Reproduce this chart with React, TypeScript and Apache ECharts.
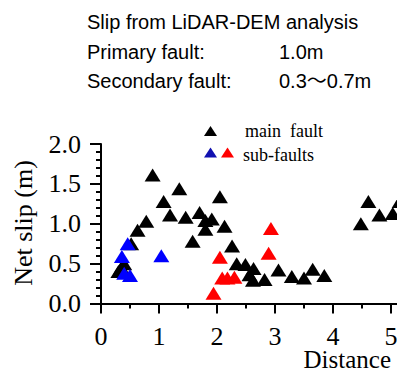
import React, { useEffect, useRef } from "react";
import * as echarts from "echarts";

// Distance, Net slip (m)
const mainFault: [number, number][] = [
  [0.30, 0.40], [0.35, 0.45], [0.40, 0.50], [0.52, 0.75], [0.63, 0.92], [0.78, 1.03],
  [0.89, 1.61], [1.08, 1.28], [1.19, 1.11], [1.35, 1.44], [1.46, 1.08], [1.58, 0.78],
  [1.70, 1.14], [1.80, 1.04], [1.91, 1.06], [1.80, 0.93], [2.05, 1.34], [2.13, 0.97],
  [2.26, 0.72], [2.34, 0.50], [2.49, 0.49], [2.63, 0.44], [2.56, 0.36], [2.62, 0.29],
  [2.82, 0.30], [3.06, 0.42], [3.29, 0.34], [3.50, 0.32], [3.65, 0.43], [3.85, 0.35],
  [4.48, 1.00], [4.61, 1.28], [4.80, 1.11], [5.03, 1.13], [5.15, 1.28],
];
const subFaultsBlue: [number, number][] = [
  [0.46, 0.75], [0.36, 0.59], [0.40, 0.38], [0.50, 0.35], [1.04, 0.60],
];
const subFaultsRed: [number, number][] = [
  [2.93, 0.94], [2.89, 0.63], [2.05, 0.58], [2.09, 0.32], [2.18, 0.32], [2.30, 0.33], [1.94, 0.13],
];
const titleLines = ["Slip from LiDAR-DEM analysis", "Primary fault:", "Secondary fault:"];
const titleValues = ["1.0m", "0.3\u301C0.7m"];
const legendLabels = ["main  fault", "sub-faults"];
const xName = "Distance";
const yName = "Net slip (m)";

const SERIF = "'Liberation Serif', 'Times New Roman', serif";
const SANS = "'Liberation Sans', Arial, 'Noto Sans CJK JP', sans-serif";

function tri(cx: number, cy: number, w: number, h: number) {
  return [[cx - w / 2, cy + h / 2], [cx + w / 2, cy + h / 2], [cx, cy - h / 2]];
}

export default function App() {
  const ref = useRef<HTMLDivElement>(null);
  useEffect(() => {
    if (!ref.current) return;
    const chart = echarts.init(ref.current, null, { renderer: "svg" });
    const sym = { symbol: "triangle", symbolSize: [16, 13] };
    chart.setOption({
      animation: false,
      grid: { left: 93, top: 136, width: 319, height: 159.5, containLabel: false, outerBoundsMode: "none" },
      xAxis: {
        type: "value", min: 0, max: 5.5, interval: 1,
        splitLine: { show: false },
        axisLine: { show: true, onZero: false, lineStyle: { color: "#000", width: 2 } },
        axisTick: { show: true, inside: false, length: 10, lineStyle: { color: "#000", width: 2 } },
        minorTick: { show: true, splitNumber: 2, length: 5, lineStyle: { color: "#000", width: 2 } },
        axisLabel: { color: "#000", fontSize: 26, fontFamily: SERIF, margin: 20, hideOverlap: false, formatter: (v: number) => (Number.isInteger(v) ? String(v) : "") },
      },
      yAxis: {
        type: "value", min: 0, max: 2, interval: 0.5,
        splitLine: { show: false },
        axisLine: { show: true, onZero: false, lineStyle: { color: "#000", width: 2 } },
        axisTick: { show: true, inside: false, length: 11, lineStyle: { color: "#000", width: 2 } },
        minorTick: { show: true, splitNumber: 5, length: 5, lineStyle: { color: "#000", width: 2 } },
        axisLabel: { color: "#000", fontSize: 26, fontFamily: SERIF, margin: 20, formatter: (v: number) => v.toFixed(1) },
      },
      series: [
        { type: "scatter", data: mainFault, ...sym, itemStyle: { color: "#000", opacity: 1 } },
        { type: "scatter", data: subFaultsBlue, ...sym, itemStyle: { color: "#0000ff", opacity: 1 } },
        { type: "scatter", data: subFaultsRed, ...sym, itemStyle: { color: "#ff0000", opacity: 1 } },
      ],
      graphic: [
        { type: "text", x: 79, y: 14, style: { text: titleLines[0], font: `20px ${SANS}`, fill: "#000", textVerticalAlign: "middle" } },
        { type: "text", x: 79, y: 44, style: { text: titleLines[1], font: `20px ${SANS}`, fill: "#000", textVerticalAlign: "middle" } },
        { type: "text", x: 79, y: 72.5, style: { text: titleLines[2], font: `20px ${SANS}`, fill: "#000", textVerticalAlign: "middle" } },
        { type: "text", x: 271, y: 44, style: { text: titleValues[0], font: `20px ${SANS}`, fill: "#000", textVerticalAlign: "middle" } },
        { type: "text", x: 271, y: 72.5, style: { text: titleValues[1], font: `20px ${SANS}`, fill: "#000", textVerticalAlign: "middle" } },
        { type: "polygon", shape: { points: tri(202.5, 123, 13, 10) }, style: { fill: "#000" } },
        { type: "polygon", shape: { points: tri(202.5, 144.5, 13, 10) }, style: { fill: "#1010b0" } },
        { type: "polygon", shape: { points: tri(219.5, 144.5, 13, 10) }, style: { fill: "#ff0000" } },
        { type: "text", x: 237, y: 123, style: { text: legendLabels[0], font: `18px ${SERIF}`, fill: "#000", textVerticalAlign: "middle" } },
        { type: "text", x: 235, y: 147, style: { text: legendLabels[1], font: `18px ${SERIF}`, fill: "#000", textVerticalAlign: "middle" } },
        { type: "text", x: 383, y: 351, style: { text: xName, font: `25px ${SERIF}`, fill: "#000", textAlign: "right", textVerticalAlign: "middle" } },
        { type: "text", x: 15, y: 215, rotation: Math.PI / 2, style: { text: yName, font: `26px ${SERIF}`, fill: "#000", textAlign: "center", textVerticalAlign: "middle" } },
      ],
    });
    return () => chart.dispose();
  }, []);
  return <div ref={ref} style={{ width: 393, height: 361, overflow: "hidden" }} />;
}
